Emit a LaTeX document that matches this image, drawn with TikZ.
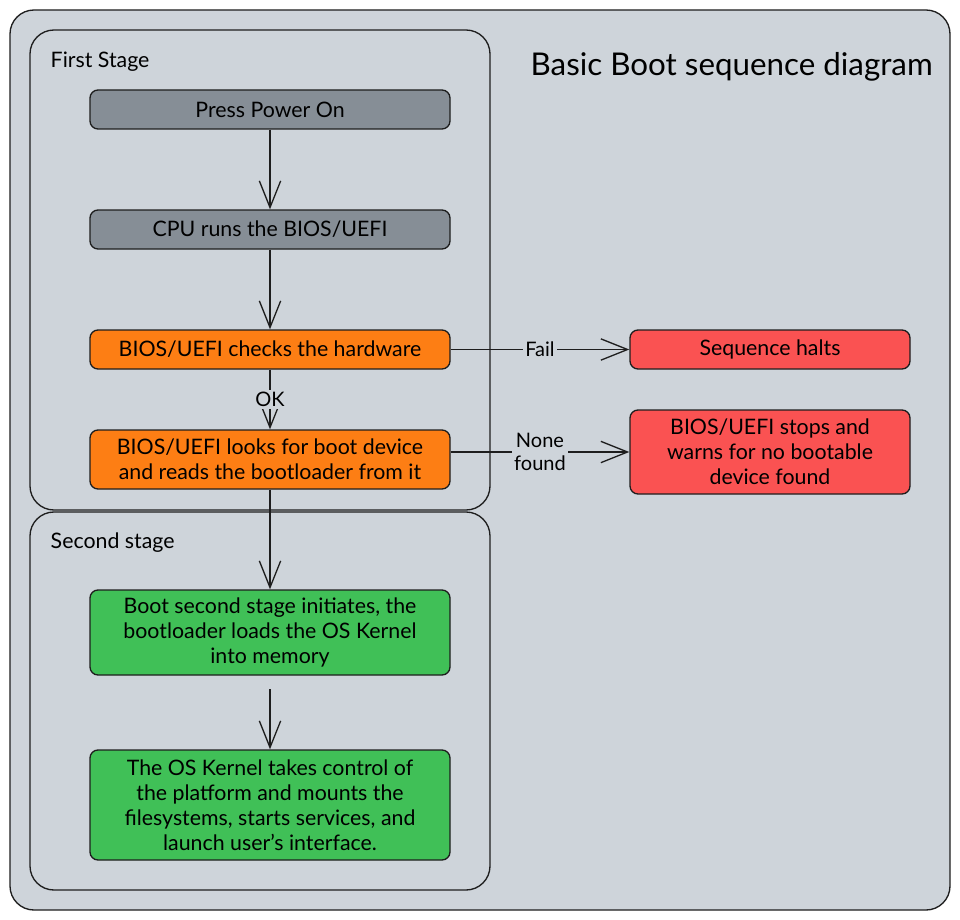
\documentclass[tikz,border=0pt]{standalone}
\usepackage{fontspec}
\setmainfont{Lato}
\usetikzlibrary{arrows.meta}
\definecolor{bg}{HTML}{CED4DA}
\definecolor{ink}{HTML}{1E1E1E}
\definecolor{graybox}{HTML}{868E96}
\definecolor{orangebox}{HTML}{FD7E14}
\definecolor{redbox}{HTML}{FA5252}
\definecolor{greenbox}{HTML}{40C057}
\tikzset{
  stepbox/.style={draw=ink, line width=1pt, rounded corners=6pt, align=center,
    minimum width=270pt, inner sep=2pt, font=\fontsize{16}{18.75}\selectfont, text=black},
  container/.style={draw=ink, line width=1pt, rounded corners=18pt},
  arr/.style={draw=ink, line width=1pt, -{Straight Barb[length=20pt,width=16pt,line width=1pt]}},
  lbl/.style={fill=bg, inner sep=2pt, font=\fontsize{15}{16}\selectfont, align=center},
}
\begin{document}
\begin{tikzpicture}[x=0.75pt,y=-0.75pt]
\useasboundingbox (0,0) rectangle (960,920);
\fill[white] (0,0) rectangle (960,920);
\draw[container, fill=bg] (10,10) rectangle (950,910);
\draw[container] (30,30) rectangle (490,510);
\draw[container] (30,512) rectangle (490,890);
\node[anchor=west, font=\fontsize{16}{18}\selectfont] (t1) at (46,62) {First Stage};
\node[anchor=west, font=\fontsize{16}{18}\selectfont] (t2) at (46,543) {Second stage};
\node[anchor=west, font=\fontsize{23.5}{26}\selectfont] (title) at (526,67) {Basic Boot sequence diagram};

\node[stepbox, fill=graybox, minimum height=29.25pt] (press) at (270,109.5) {Press Power On};
\node[stepbox, fill=graybox, minimum height=29.25pt] (cpu) at (270,229.5) {CPU runs the BIOS/UEFI};
\node[stepbox, fill=orangebox, minimum height=29.25pt] (check) at (270,349.5) {BIOS/UEFI checks the hardware};
\node[stepbox, fill=orangebox, minimum height=44.25pt] (look) at (270,459.5) {BIOS/UEFI looks for boot device\\and reads the bootloader from it};
\node[stepbox, fill=redbox, minimum width=210pt, minimum height=29.25pt] (halt) at (770,349.5) {Sequence halts};
\node[stepbox, fill=redbox, minimum width=210pt, minimum height=63pt] (stop) at (770,452) {BIOS/UEFI stops and\\warns for no bootable\\device found};
\node[stepbox, fill=greenbox, minimum height=63.75pt] (boot) at (270,632.5) {Boot second stage initiates, the\\bootloader loads the OS Kernel\\into memory};
\node[stepbox, fill=greenbox, minimum height=82.5pt] (kernel) at (270,805) {The OS Kernel takes control of\\the platform and mounts the\\filesystems, starts services, and\\launch user's interface.};

\coordinate (ny) at (0,452);
\draw[arr] (press) -- (cpu);
\draw[arr] (cpu) -- (check);
\draw[arr] (check) -- node[lbl] {OK} (look);
\draw[arr] (look) -- (boot);
\draw[arr, shorten <=10pt] (boot) -- (kernel);
\draw[arr] (check) -- node[lbl] {Fail} (halt);
\draw[arr] (look.east |- ny) -- node[lbl, font=\fontsize{15}{17}\selectfont] {None\\found} (stop.west |- ny);
\end{tikzpicture}
\end{document}
